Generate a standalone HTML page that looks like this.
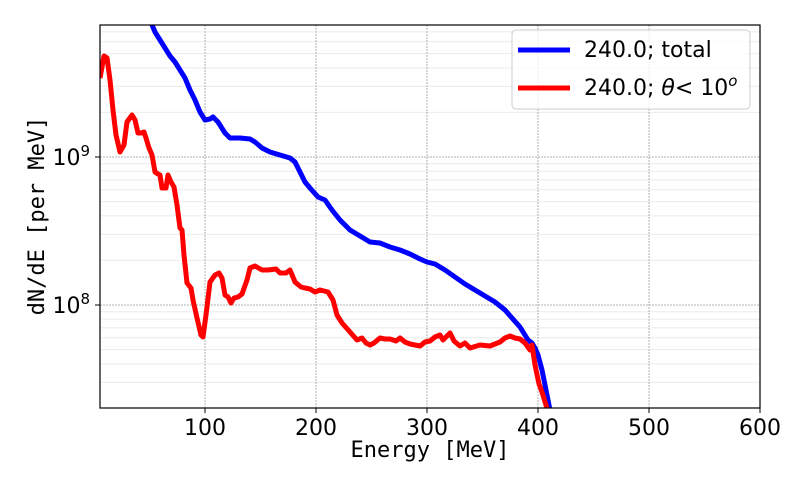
<!DOCTYPE html>
<html><head><meta charset="utf-8"><style>body{margin:0;background:#fff}svg{display:block}</style></head><body>
<svg width="800" height="480" xmlns="http://www.w3.org/2000/svg" font-family="DejaVu Sans, sans-serif">
<rect width="800" height="480" fill="#fff"/>
<g stroke="#ebebeb" stroke-width="1">
<line x1="100" x2="760" y1="260.4" y2="260.4"/><line x1="100" x2="760" y1="234.4" y2="234.4"/><line x1="100" x2="760" y1="215.9" y2="215.9"/><line x1="100" x2="760" y1="201.6" y2="201.6"/><line x1="100" x2="760" y1="189.8" y2="189.8"/><line x1="100" x2="760" y1="179.9" y2="179.9"/><line x1="100" x2="760" y1="171.3" y2="171.3"/><line x1="100" x2="760" y1="163.8" y2="163.8"/>
<line x1="100" x2="760" y1="112.4" y2="112.4"/><line x1="100" x2="760" y1="86.4" y2="86.4"/><line x1="100" x2="760" y1="67.9" y2="67.9"/><line x1="100" x2="760" y1="53.6" y2="53.6"/><line x1="100" x2="760" y1="41.8" y2="41.8"/><line x1="100" x2="760" y1="31.9" y2="31.9"/>
<line x1="100" x2="760" y1="382.4" y2="382.4"/><line x1="100" x2="760" y1="363.9" y2="363.9"/><line x1="100" x2="760" y1="349.6" y2="349.6"/><line x1="100" x2="760" y1="337.8" y2="337.8"/><line x1="100" x2="760" y1="327.9" y2="327.9"/><line x1="100" x2="760" y1="319.3" y2="319.3"/><line x1="100" x2="760" y1="311.8" y2="311.8"/>
</g>
<g stroke="#b0b0b0" stroke-width="1" stroke-dasharray="2,1">
<line x1="205" x2="205" y1="25" y2="408"/><line x1="316" x2="316" y1="25" y2="408"/><line x1="427" x2="427" y1="25" y2="408"/><line x1="538" x2="538" y1="25" y2="408"/><line x1="649" x2="649" y1="25" y2="408"/>
<line x1="100" x2="760" y1="157" y2="157"/><line x1="100" x2="760" y1="305" y2="305"/>
</g>
<defs><clipPath id="c"><rect x="100" y="25" width="660" height="383"/></clipPath></defs>
<g clip-path="url(#c)" fill="none" stroke-width="5" stroke-linejoin="round">
<polyline stroke="#0000ff" points="150,20 155,32 160,40 165,48 170,56 175,62 180,70 185,78 190,90 195,100 200,112 205,120 210,119 213,117 218,122 225,133 230,138 240,138 250,139 255,142 262,148 270,152 280,155 290,158 295,162 300,172 305,182 310,188 318,197 325,200 332,210 340,220 345,225 350,230 360,236 370,242 380,243 390,247 400,250 410,254 420,259 427,262 435,264 445,270 455,277 465,284 475,290 485,296 495,302 505,310 512,318 520,327 528,340 532,343 535,348 538,355 542,370 546,390 549,405 551,415"/>
<polyline stroke="#ff0000" points="100,78 104,56 107,58 110,80 113,110 116,135 120,152 124,145 127,122 132,115 135,120 138,133 141,133 144,132 146,138 149,148 152,155 155,172 158,174 160,175 162,188 166,188 168,175 171,182 174,187 177,205 180,228 182,230 184,255 187,283 191,288 193,300 197,318 201,335 203,337 206,315 210,282 215,275 219,273 222,278 225,295 228,297 231,303 234,298 238,297 242,294 247,280 250,268 255,266 262,270 268,270 276,269 280,273 286,273 290,270 295,282 301,287 305,288 310,289 315,292 320,290 328,292 333,300 337,315 342,323 350,332 357,340 362,338 366,343 370,345 374,343 380,338 385,339 390,339 396,341 400,338 405,342 410,344 415,345 420,346 425,342 430,341 435,337 440,335 443,340 447,336 450,333 454,341 460,346 465,343 470,348 480,345 490,346 500,342 505,338 510,336 515,338 520,339 525,343 530,350 532,345 535,365 539,384 542,392 546,405 549,415"/>
</g>
<rect x="100" y="25" width="660" height="383" fill="none" stroke="#000" stroke-width="1.2"/>
<g stroke="#000" stroke-width="1">
<line x1="205" x2="205" y1="408" y2="413"/><line x1="316" x2="316" y1="408" y2="413"/><line x1="427" x2="427" y1="408" y2="413"/><line x1="538" x2="538" y1="408" y2="413"/><line x1="649" x2="649" y1="408" y2="413"/><line x1="760" x2="760" y1="408" y2="413"/>
<line x1="95" x2="100" y1="157" y2="157"/><line x1="95" x2="100" y1="305" y2="305"/>
</g>
<g font-size="22" fill="#000" text-anchor="middle">
<text x="205" y="435">100</text><text x="316" y="435">200</text><text x="427" y="435">300</text><text x="538" y="435">400</text><text x="649" y="435">500</text><text x="760" y="435">600</text>
</g>
<g font-size="22" fill="#000" text-anchor="end">
<text x="90" y="165">10<tspan font-size="15" dy="-9">9</tspan></text>
<text x="90" y="313">10<tspan font-size="15" dy="-9">8</tspan></text>
</g>
<text x="430" y="457" font-size="22" text-anchor="middle" font-family="DejaVu Sans Mono, monospace">Energy [MeV]</text>
<text transform="translate(44,216) rotate(-90)" font-size="22" text-anchor="middle" font-family="DejaVu Sans Mono, monospace">dN/dE [per MeV]</text>
<rect x="512" y="30" width="238" height="79" rx="4" fill="#fff" fill-opacity="0.8" stroke="#ccc"/>
<line x1="518" x2="570" y1="50" y2="50" stroke="#0000ff" stroke-width="5"/>
<line x1="518" x2="570" y1="88" y2="88" stroke="#ff0000" stroke-width="5"/>
<text x="584" y="57" font-size="22">240.0; total</text>
<text x="584" y="95" font-size="22">240.0; <tspan font-style="italic">θ</tspan>&lt; 10<tspan font-size="15" dy="-9" font-style="italic">o</tspan></text>
</svg>
</body></html>
